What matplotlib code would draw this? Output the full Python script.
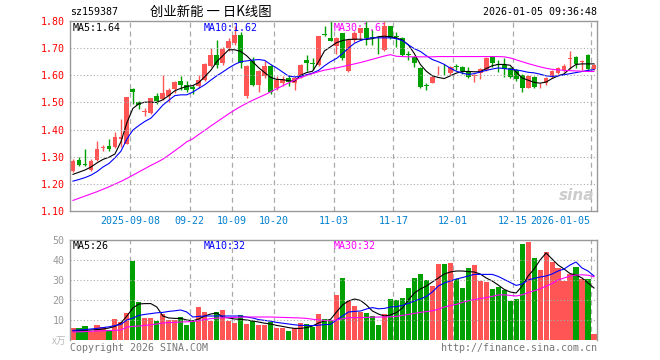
import numpy as np
import matplotlib
matplotlib.use("Agg")
import matplotlib.pyplot as plt

# daily candles, oldest first (open, close, high, low)
opens = [1.246, 1.289, 1.271, 1.251, 1.288, 1.333, 1.340, 1.334, 1.367, 1.347,
         1.548, 1.501, 1.466, 1.461, 1.522, 1.513, 1.522, 1.551, 1.580, 1.563,
         1.557, 1.559, 1.583, 1.636, 1.675, 1.645, 1.700, 1.718, 1.749, 1.522,
         1.651, 1.565, 1.596, 1.633, 1.553, 1.571, 1.590, 1.571, 1.592, 1.655,
         1.644, 1.639, 1.752, 1.736, 1.707, 1.754, 1.617, 1.729, 1.755, 1.773,
         1.742, 1.706, 1.695, 1.781, 1.744, 1.737, 1.677, 1.669, 1.626, 1.562,
         1.573, 1.615, 1.616, 1.607, 1.633, 1.632, 1.612, 1.597, 1.607, 1.620,
         1.666, 1.640, 1.638, 1.626, 1.618, 1.602, 1.555, 1.594, 1.563, 1.571,
         1.593, 1.608, 1.618, 1.659, 1.667, 1.649, 1.675, 1.624]
closes = [1.283, 1.271, 1.269, 1.285, 1.329, 1.336, 1.329, 1.374, 1.372, 1.521,
          1.540, 1.489, 1.468, 1.516, 1.507, 1.534, 1.547, 1.575, 1.563, 1.546,
          1.548, 1.583, 1.641, 1.673, 1.639, 1.696, 1.725, 1.749, 1.645, 1.633,
          1.565, 1.617, 1.633, 1.540, 1.583, 1.587, 1.574, 1.590, 1.639, 1.645,
          1.642, 1.743, 1.749, 1.728, 1.736, 1.662, 1.729, 1.756, 1.774, 1.736,
          1.738, 1.703, 1.782, 1.739, 1.741, 1.675, 1.675, 1.644, 1.558, 1.560,
          1.593, 1.617, 1.614, 1.632, 1.631, 1.614, 1.593, 1.599, 1.623, 1.665,
          1.646, 1.638, 1.622, 1.595, 1.588, 1.553, 1.598, 1.557, 1.565, 1.591,
          1.617, 1.626, 1.636, 1.662, 1.640, 1.652, 1.622, 1.639]
highs = [1.293, 1.298, 1.329, 1.290, 1.359, 1.344, 1.365, 1.391, 1.440, 1.521,
         1.555, 1.506, 1.481, 1.516, 1.534, 1.602, 1.555, 1.580, 1.598, 1.580,
         1.566, 1.601, 1.645, 1.700, 1.731, 1.706, 1.737, 1.782, 1.761, 1.639,
         1.669, 1.620, 1.653, 1.639, 1.596, 1.596, 1.602, 1.596, 1.642, 1.675,
         1.663, 1.743, 1.780, 1.800, 1.740, 1.757, 1.732, 1.763, 1.776, 1.800,
         1.767, 1.743, 1.800, 1.783, 1.760, 1.740, 1.690, 1.672, 1.630, 1.572,
         1.597, 1.635, 1.640, 1.636, 1.641, 1.635, 1.630, 1.604, 1.626, 1.669,
         1.669, 1.655, 1.665, 1.630, 1.622, 1.605, 1.602, 1.597, 1.570, 1.594,
         1.620, 1.630, 1.642, 1.688, 1.670, 1.657, 1.678, 1.641]
lows = [1.244, 1.265, 1.265, 1.246, 1.283, 1.320, 1.320, 1.332, 1.334, 1.347,
        1.493, 1.477, 1.449, 1.456, 1.494, 1.510, 1.500, 1.534, 1.545, 1.539,
        1.531, 1.553, 1.578, 1.632, 1.626, 1.639, 1.688, 1.712, 1.626, 1.518,
        1.559, 1.540, 1.590, 1.531, 1.547, 1.559, 1.559, 1.547, 1.590, 1.614,
        1.620, 1.633, 1.743, 1.726, 1.677, 1.655, 1.612, 1.722, 1.731, 1.712,
        1.712, 1.677, 1.690, 1.735, 1.705, 1.670, 1.655, 1.630, 1.552, 1.547,
        1.570, 1.600, 1.600, 1.600, 1.620, 1.605, 1.590, 1.577, 1.585, 1.617,
        1.629, 1.612, 1.592, 1.590, 1.580, 1.538, 1.553, 1.552, 1.555, 1.566,
        1.590, 1.604, 1.612, 1.624, 1.628, 1.620, 1.618, 1.620]

# price moving averages as drawn on the chart
ma5 = [1.235, 1.243, 1.251, 1.262, 1.277, 1.290, 1.298, 1.310, 1.355, 1.425,
       1.478, 1.495, 1.501, 1.501, 1.500, 1.510, 1.525, 1.543, 1.552, 1.559,
       1.562, 1.573, 1.595, 1.618, 1.650, 1.672, 1.694, 1.694, 1.688, 1.672,
       1.650, 1.628, 1.610, 1.592, 1.585, 1.584, 1.580, 1.578, 1.600, 1.610,
       1.615, 1.650, 1.690, 1.705, 1.720, 1.728, 1.732, 1.733, 1.733, 1.732,
       1.735, 1.742, 1.744, 1.742, 1.738, 1.730, 1.712, 1.680, 1.640, 1.615,
       1.598, 1.592, 1.588, 1.598, 1.608, 1.614, 1.614, 1.613, 1.613, 1.625,
       1.635, 1.640, 1.640, 1.637, 1.612, 1.590, 1.582, 1.574, 1.571, 1.575,
       1.588, 1.598, 1.605, 1.625, 1.640, 1.642, 1.642, 1.642]
ma10 = [1.210, 1.216, 1.223, 1.232, 1.245, 1.262, 1.275, 1.296, 1.320, 1.365,
        1.398, 1.415, 1.430, 1.442, 1.465, 1.490, 1.508, 1.525, 1.528, 1.528,
        1.538, 1.552, 1.565, 1.582, 1.598, 1.612, 1.627, 1.640, 1.650, 1.653,
        1.656, 1.658, 1.655, 1.640, 1.627, 1.612, 1.597, 1.594, 1.596, 1.602,
        1.608, 1.618, 1.635, 1.650, 1.662, 1.680, 1.700, 1.718, 1.728, 1.735,
        1.738, 1.738, 1.738, 1.738, 1.735, 1.728, 1.712, 1.698, 1.688, 1.672,
        1.658, 1.650, 1.640, 1.626, 1.615, 1.608, 1.603, 1.606, 1.612, 1.618,
        1.623, 1.627, 1.625, 1.622, 1.620, 1.616, 1.611, 1.609, 1.604, 1.598,
        1.596, 1.598, 1.602, 1.606, 1.610, 1.614, 1.618, 1.621]
ma30 = [1.139, 1.147, 1.155, 1.163, 1.171, 1.180, 1.189, 1.199, 1.209, 1.220,
        1.232, 1.244, 1.256, 1.268, 1.279, 1.291, 1.306, 1.322, 1.338, 1.355,
        1.366, 1.382, 1.397, 1.413, 1.428, 1.443, 1.458, 1.472, 1.485, 1.497,
        1.508, 1.518, 1.528, 1.539, 1.550, 1.561, 1.572, 1.582, 1.591, 1.599,
        1.606, 1.613, 1.619, 1.623, 1.627, 1.632, 1.637, 1.642, 1.647, 1.653,
        1.659, 1.665, 1.671, 1.676, 1.670, 1.669, 1.668, 1.668, 1.668, 1.668,
        1.668, 1.669, 1.669, 1.669, 1.669, 1.669, 1.669, 1.669, 1.669, 1.669,
        1.669, 1.669, 1.668, 1.664, 1.657, 1.650, 1.643, 1.637, 1.631, 1.626,
        1.622, 1.620, 1.618, 1.617, 1.616, 1.615, 1.614, 1.614]

# volume, in 万 lots
volume = [6.0, 6.0, 7.0, 4.2, 7.5, 6.5, 5.0, 10.3, 9.0, 13.5,
          39.5, 19.0, 11.0, 11.0, 9.5, 12.8, 10.0, 10.0, 11.5, 7.5,
          9.5, 16.5, 14.0, 9.5, 14.0, 15.0, 9.5, 8.3, 12.5, 8.0,
          9.7, 7.5, 7.5, 9.0, 6.0, 6.0, 4.5, 6.0, 8.5, 8.0,
          6.5, 13.0, 10.5, 10.0, 22.3, 31.0, 19.5, 17.0, 14.0, 13.3,
          12.0, 7.5, 13.0, 20.7, 20.0, 21.0, 26.0, 31.0, 33.0, 30.0,
          27.0, 38.0, 38.0, 38.5, 30.7, 26.0, 36.0, 37.5, 29.5, 29.0,
          25.7, 26.5, 25.0, 19.5, 20.5, 48.0, 49.0, 41.0, 35.0, 44.0,
          39.0, 36.0, 29.7, 32.8, 36.5, 30.7, 30.7, 3.0]
vol_ma5 = [4.5, 4.7, 4.9, 5.0, 5.2, 5.5, 6.0, 6.8, 8.5, 12.0,
           16.0, 18.0, 18.2, 18.2, 16.5, 12.0, 11.0, 10.8, 10.8, 10.0,
           9.6, 10.5, 12.0, 13.0, 13.5, 11.5, 11.0, 10.5, 10.3, 10.0,
           9.5, 9.0, 8.4, 8.0, 7.3, 6.8, 6.2, 5.8, 5.8, 6.2,
           7.0, 8.5, 9.5, 10.3, 14.0, 17.5, 19.5, 20.5, 19.8, 17.5,
           14.5, 13.0, 12.0, 12.5, 13.7, 16.0, 20.0, 23.5, 25.5, 27.0,
           29.0, 31.0, 33.0, 34.0, 34.5, 34.5, 34.2, 34.0, 33.0, 31.0,
           29.5, 27.5, 25.3, 24.0, 23.5, 27.0, 32.0, 35.5, 40.0, 43.5,
           40.5, 37.5, 35.5, 33.2, 32.5, 31.0, 28.5, 26.0]
vol_ma10 = [4.8, 5.0, 5.2, 5.5, 5.8, 6.2, 6.6, 7.2, 7.8, 10.0,
            11.0, 12.3, 12.8, 13.2, 13.6, 13.8, 14.3, 14.6, 15.0, 14.0,
            11.5, 11.8, 12.0, 12.0, 12.0, 12.0, 12.0, 12.0, 12.0, 11.5,
            11.0, 10.2, 9.8, 9.4, 8.8, 8.4, 8.0, 7.6, 7.3, 7.3,
            7.2, 7.4, 7.7, 7.8, 10.0, 12.0, 14.0, 14.3, 14.5, 15.5,
            16.2, 15.6, 15.8, 16.5, 16.7, 17.3, 18.3, 19.5, 20.5, 21.8,
            24.0, 27.0, 28.5, 29.5, 30.5, 31.2, 32.0, 32.8, 32.8, 32.8,
            32.8, 31.8, 30.3, 28.8, 27.3, 28.0, 30.0, 30.8, 31.5, 32.0,
            33.0, 34.5, 35.5, 37.5, 39.0, 36.0, 34.5, 32.0]
vol_ma30 = [4.0, 4.1, 4.2, 4.3, 4.5, 4.6, 4.7, 4.8, 5.0, 6.5,
            6.8, 7.0, 7.3, 7.6, 8.0, 8.5, 8.7, 8.8, 9.0, 9.1,
            9.3, 9.6, 10.2, 10.7, 10.9, 11.1, 11.2, 11.3, 11.4, 11.5,
            11.5, 11.5, 11.5, 11.5, 11.4, 11.3, 11.2, 11.1, 11.0, 10.8,
            10.4, 10.0, 9.8, 9.6, 10.0, 10.6, 11.1, 11.2, 11.2, 11.3,
            11.4, 11.5, 11.5, 11.6, 11.8, 12.3, 12.8, 13.3, 13.8, 14.2,
            14.6, 15.4, 16.5, 17.2, 17.8, 18.8, 19.6, 20.2, 20.7, 21.2,
            21.8, 22.5, 22.6, 22.3, 22.0, 22.6, 23.7, 24.6, 25.6, 27.0,
            28.2, 30.0, 31.0, 32.0, 32.5, 32.6, 32.4, 31.6]

tick_labels = ["2025-09-08", "09-22", "10-09", "10-20", "11-03",
               "11-17", "12-01", "12-15", "2026-01-05"]
tick_idx = [10, 20, 27, 34, 44, 54, 64, 74, 87]

RED = "#ff5555"
GREEN = "#00a000"
GRID = "#aaaaaa"
MONO = "DejaVu Sans Mono"
CJK = ["Noto Sans CJK SC", "DejaVu Sans"]

o, c, h, l = map(np.array, (opens, closes, highs, lows))
v = np.array(volume)
x = np.arange(len(o))
up = c >= o
colors = np.where(up, RED, GREEN)

W, H = 660, 360
fig = plt.figure(figsize=(6.6, 3.6), dpi=100)


def px_axes(left, top, right, bottom):
    return fig.add_axes([left / W, 1 - bottom / H, (right - left) / W, (bottom - top) / H])


ax = px_axes(70, 21, 597, 211)
axv = px_axes(70, 240, 597, 340)

# --- price panel ---
ax.vlines(x, l, h, colors=colors, lw=1)
body = np.maximum(np.abs(c - o), 0.0025)
ax.bar(x, body, bottom=np.minimum(o, c), width=0.8, color=colors, linewidth=0)
ax.plot(x, ma5, color="black", lw=0.8)
ax.plot(x, ma10, color="#0000ff", lw=0.8)
ax.plot(x, ma30, color="#ff00ff", lw=0.8)
ax.set_xlim(-0.5, len(x) - 0.5)
ax.set_ylim(1.10, 1.80)
yt = [1.10, 1.20, 1.30, 1.40, 1.50, 1.60, 1.70, 1.80]
ax.set_yticks(yt)
ax.set_yticklabels([f"{t:.2f}" for t in yt], color="red", fontsize=7.2, family=MONO)
for t in yt[1:-1]:
    ax.axhline(t, color=GRID, lw=0.8, ls=(0, (1, 2)))

# --- volume panel ---
axv.bar(x, v, width=0.86, color=colors, linewidth=0)
axv.plot(x, vol_ma5, color="black", lw=0.8)
axv.plot(x, vol_ma10, color="#0000ff", lw=0.8)
axv.plot(x, vol_ma30, color="#ff00ff", lw=0.8)
axv.set_xlim(-0.5, len(x) - 0.5)
axv.set_ylim(0, 50)
vt = [10, 20, 30, 40, 50]
axv.set_yticks(vt)
axv.set_yticklabels([str(t) for t in vt], color="#999999", fontsize=7.2, family=MONO)
for t in vt[:-1]:
    axv.axhline(t, color=GRID, lw=0.8, ls=(0, (1, 2)))

for a in (ax, axv):
    for i in tick_idx:
        a.axvline(i - 0.5, color=GRID, lw=0.9, ls=(0, (4, 3)), zorder=0)
    for s in a.spines.values():
        s.set_color("#999999")
        s.set_linewidth(1)
    a.tick_params(axis="y", length=0, pad=4)
    a.tick_params(axis="x", length=0)
    a.set_xticks([])
axv.spines["bottom"].set_visible(False)

# date labels under price panel
for i, lab in zip(tick_idx, tick_labels):
    ha = "right" if i == tick_idx[-1] else "center"
    xx = i - 0.5 if ha == "center" else i - 0.7
    ax.text(xx, -0.05, lab, transform=ax.get_xaxis_transform(), ha=ha, va="center",
            color="#0080d0", fontsize=7.2, family=MONO)

# header
fig.text(70 / W, 1 - 12 / H, "sz159387", fontsize=7.2, family=MONO, va="center")
fig.text(150 / W, 1 - 12 / H, "创业新能 一 日K线图", fontsize=9.6, family=CJK, va="center")
fig.text(597 / W, 1 - 12 / H, "2026-01-05 09:36:48", fontsize=7.2, family=MONO,
         va="center", ha="right")

# moving-average legends
ax.text(73 / W, 1 - 28 / H, f"MA5:{ma5[-1]:.2f}", transform=fig.transFigure,
        fontsize=7.2, family=MONO, va="center", color="black")
ax.text(204 / W, 1 - 28 / H, f"MA10:{ma10[-1]:.2f}", transform=fig.transFigure,
        fontsize=7.2, family=MONO, va="center", color="#0000ff")
ax.text(334 / W, 1 - 28 / H, f"MA30:{ma30[-1]:.2f}", transform=fig.transFigure,
        fontsize=7.2, family=MONO, va="center", color="#ff00ff", zorder=0)
axv.text(73 / W, 1 - 246 / H, f"MA5:{vol_ma5[-1]:.0f}", transform=fig.transFigure,
         fontsize=7.2, family=MONO, va="center", color="black")
axv.text(204 / W, 1 - 246 / H, f"MA10:{vol_ma10[-1]:.0f}", transform=fig.transFigure,
         fontsize=7.2, family=MONO, va="center", color="#0000ff")
axv.text(334 / W, 1 - 246 / H, f"MA30:{vol_ma30[-1]:.0f}", transform=fig.transFigure,
         fontsize=7.2, family=MONO, va="center", color="#ff00ff")

# watermark and footer
ax.text(0.995, 0.04, "sina", transform=ax.transAxes, ha="right", va="bottom",
        fontsize=11, style="italic", weight="bold", color="#cccccc", zorder=0)
fig.text(66 / W, 1 - 341 / H, "x万", fontsize=7, family=CJK, color="#bbbbbb",
         ha="right", va="center")
fig.text(70 / W, 1 - 348 / H, "Copyright 2026 SINA.COM", fontsize=7.2, family=MONO,
         color="#777777", va="center")
fig.text(597 / W, 1 - 348 / H, "http://finance.sina.com.cn", fontsize=7.2, family=MONO,
         color="#777777", va="center", ha="right")

fig.savefig("out.png", dpi=100, facecolor="white")
